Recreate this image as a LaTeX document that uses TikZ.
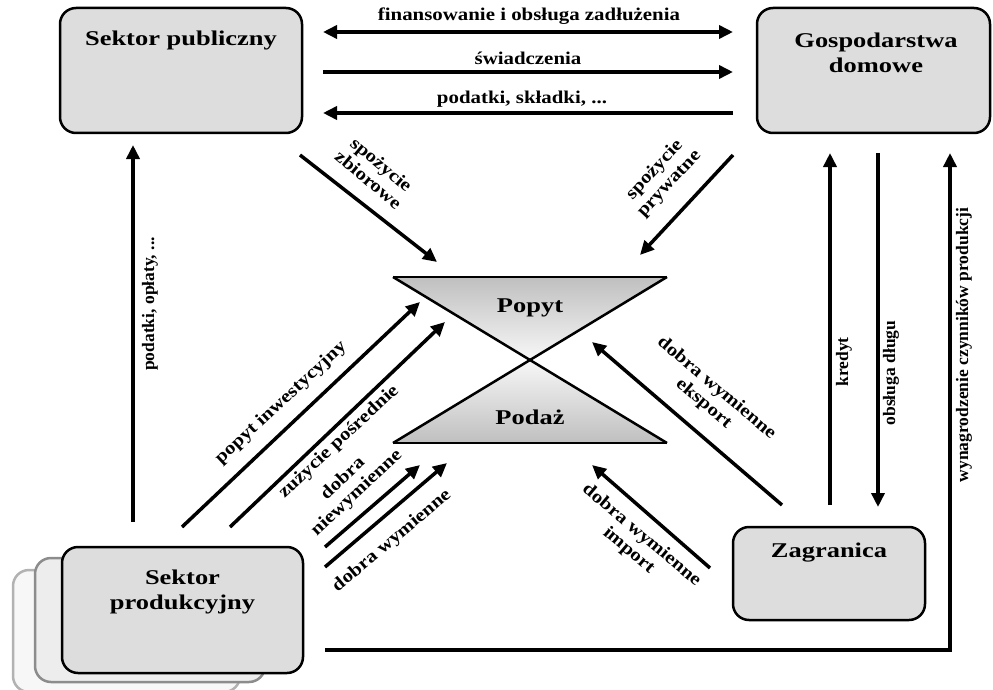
\documentclass[tikz,border=0pt]{standalone}
\usepackage{fontspec}
\setmainfont{Liberation Serif}
\newfontfamily\lblfont{Liberation Serif}[FakeStretch=1.16]
\newfontfamily\boxfont{Liberation Serif}[FakeStretch=1.26]
\usetikzlibrary{arrows.meta,calc}
\definecolor{boxgray}{RGB}{221,221,221}
\begin{document}
\begin{tikzpicture}[x=1pt,y=-1pt,
  box/.style={draw=black, line width=2.5pt, fill=boxgray, rounded corners=16pt, inner sep=0pt},
  shadtwo/.style={draw=black!45, line width=2.5pt, fill=black!7, rounded corners=16pt, inner sep=0pt},
  shadthree/.style={draw=black!30, line width=2.5pt, fill=black!3, rounded corners=16pt, inner sep=0pt},
  arr/.style={line width=3.5pt, -{Triangle[length=14pt,width=13pt]}},
  darr/.style={line width=3.5pt, {Triangle[length=14pt,width=13pt]}-{Triangle[length=14pt,width=13pt]}},
  lbl/.style={font=\lblfont\bfseries\fontsize{18}{20}\selectfont, inner sep=1pt, align=center},
  vlbl/.style={font=\bfseries\fontsize{17.5}{20}\selectfont, inner sep=1pt, rotate=90},
  blbl/.style={font=\boxfont\bfseries\fontsize{21}{25}\selectfont, inner sep=0pt, align=center},
  hg/.style={line width=2.5pt, line join=miter}]
\useasboundingbox (0,0) rectangle (993,690);

% boxes
\node[box, minimum width=242pt, minimum height=125pt] (pub) at (181,70.5) {};
\node[blbl] (pubT) at (181,40) {Sektor publiczny};
\node[box, minimum width=233pt, minimum height=125pt] (hh) at (873.5,70.5) {};
\node[blbl] (hhT) at (876,53) {Gospodarstwa\\domowe};
\node[shadthree, minimum width=227pt, minimum height=122pt] (prod3) at (126.5,631) {};
\node[shadtwo, minimum width=230pt, minimum height=124pt] (prod2) at (150,620) {};
\node[box, minimum width=241pt, minimum height=126pt] (prod) at (182.5,610) {};
\node[blbl] (prodT) at (182.5,592) {Sektor\\produkcyjny};
\node[box, minimum width=192pt, minimum height=93pt] (zag) at (829,573.5) {};
\node[blbl] (zagT) at (829,553) {Zagranica};

% hourglass
\coordinate (TL) at (393,277);
\coordinate (TR) at (667,277);
\coordinate (BL) at (393,443);
\coordinate (BR) at (667,443);
\coordinate (X) at (530,360);
\shade[top color=black!25, bottom color=black!3] (TL) -- (TR) -- (X) -- cycle;
\shade[top color=black!3, bottom color=black!25] (X) -- (BR) -- (BL) -- cycle;
\draw[hg] (TL) -- (TR);
\draw[hg] (BL) -- (BR);
\draw[hg] (TL) -- (BR);
\draw[hg] (TR) -- (BL);
\node[blbl] (popyt) at (530,308) {Popyt};
\node[blbl] (podaz) at (530,417) {Podaż};

% top arrows
\coordinate (finL) at (323,32);  \coordinate (finR) at (733,32);
\coordinate (swL) at (323,72);   \coordinate (swR) at (733,72);
\coordinate (pdL) at (323,113);  \coordinate (pdR) at (733,113);
\draw[darr] (finL) -- (finR);
\draw[arr] (swL) -- (swR);
\draw[arr] (pdR) -- (pdL);
\node[lbl] (finT) at (529,16) {finansowanie i obsługa zadłużenia};
\node[lbl] (swT) at (528,58) {świadczenia};
\node[lbl] (pdT) at (522,99) {podatki, składki, ...};

% consumption
\coordinate (szS) at (300,155); \coordinate (szE) at (437,262);
\draw[arr] (szS) -- (szE);
\node[lbl, rotate=-40] (szT) at (375,172) {spożycie\\zbiorowe};
\coordinate (spS) at (733,155); \coordinate (spE) at (640,255);
\draw[arr] (spS) -- (spE);
\node[lbl, rotate=47] (spT) at (662,177) {spożycie\\prywatne};

% left vertical
\coordinate (poS) at (133,522); \coordinate (poE) at (133,145);
\draw[arr] (poS) -- (poE);
\node[vlbl] (poT) at (150,304) {podatki, opłaty, ...};

% production to hourglass
\coordinate (piS) at (182,527); \coordinate (piE) at (420,302);
\draw[arr] (piS) -- (piE);
\node[lbl, rotate=43] (piT) at (281,403) {popyt inwestycyjny};
\coordinate (zpS) at (230,527); \coordinate (zpE) at (445,322);
\draw[arr] (zpS) -- (zpE);
\node[lbl, rotate=43] (zpT) at (339,442) {zużycie pośrednie};
\coordinate (dnS) at (325,547); \coordinate (dnE) at (420,465);
\draw[arr] (dnS) -- (dnE);
\node[lbl, rotate=43] (dnT) at (350,486) {dobra\\niewymienne};
\coordinate (dwS) at (325,567); \coordinate (dwE) at (447,463);
\draw[arr] (dwS) -- (dwE);
\node[lbl, rotate=40] (dwT) at (392,541) {dobra wymienne};

% foreign
\coordinate (exS) at (782,505); \coordinate (exE) at (592,342);
\draw[arr] (exS) -- (exE);
\node[lbl, rotate=-40] (exT) at (710,396) {dobra wymienne\\eksport};
\coordinate (imS) at (710,568); \coordinate (imE) at (592,465);
\draw[arr] (imS) -- (imE);
\node[lbl, rotate=-40] (imT) at (635,543) {dobra wymienne\\import};

% right verticals
\coordinate (krS) at (830,505); \coordinate (krE) at (830,153);
\draw[arr] (krS) -- (krE);
\node[vlbl] (krT) at (844,362) {kredyt};
\coordinate (odS) at (878,153); \coordinate (odE) at (878,507);
\draw[arr] (odS) -- (odE);
\node[vlbl] (odT) at (891,373) {obsługa długu};
\coordinate (wyS) at (325,650); \coordinate (wyE) at (950,153);
\draw[line width=3.5pt, -{Triangle[length=14pt,width=13pt]}] (wyS) -| (wyE);
\node[vlbl] (wyT) at (964,345) {wynagrodzenie czynników produkcji};
\end{tikzpicture}
\end{document}
